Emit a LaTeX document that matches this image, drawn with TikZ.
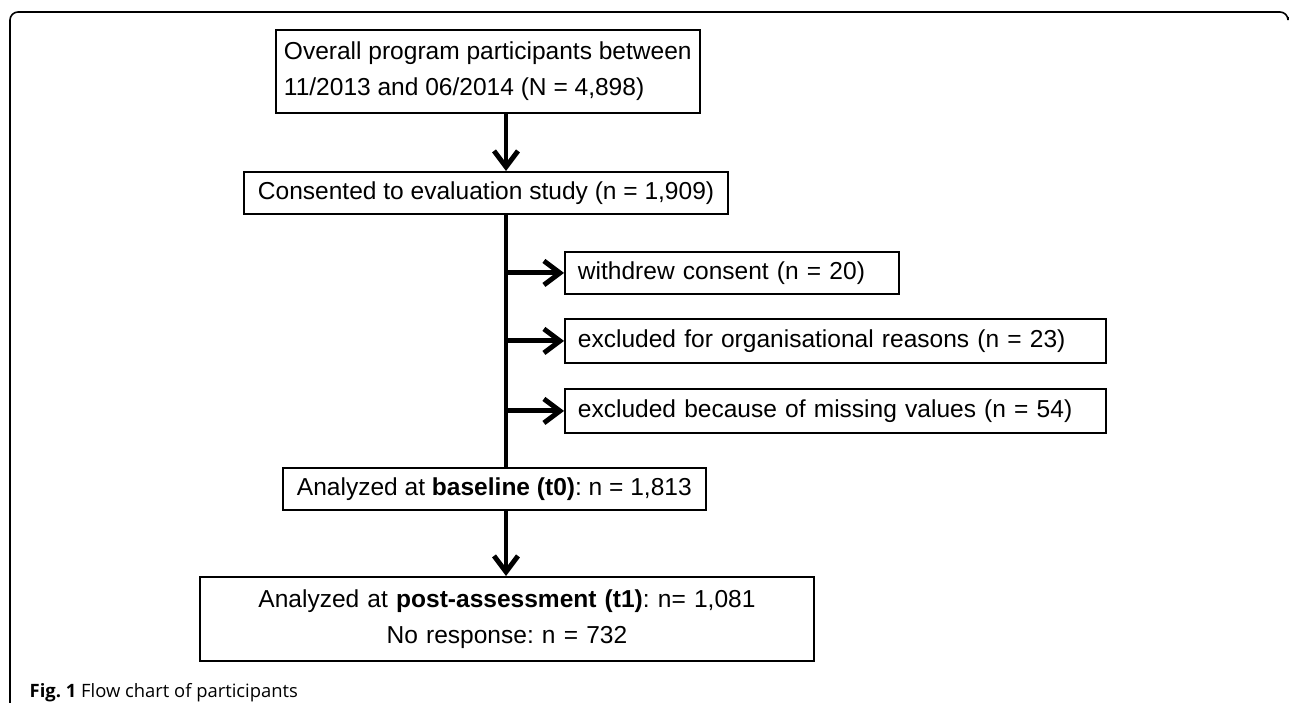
\documentclass[tikz,border=0pt]{standalone}
\usepackage{fontspec}
\setmainfont{Liberation Sans}
\newfontfamily\capfont{Open Sans}
\usetikzlibrary{arrows.meta}
\frenchspacing

\tikzset{
    box/.style={draw, line width=1.4pt, anchor=north west, inner ysep=0pt, inner xsep=6pt, font=\fontsize{18.4}{27}\selectfont},
    flow/.style={line width=3.7pt, -{Straight Barb[length=12pt,width=18pt,line width=3.7pt]}},
}

\begin{document}
\begin{tikzpicture}[x=0.75pt,y=-0.75pt]
    \useasboundingbox (0,0) rectangle (1290,703);
    \coordinate (T) at (506,0);

    % frame
    \draw[line width=1.2pt, rounded corners=6pt] (10,703) -- (10,12) -- (1288,12) -- (1288,17);

    \node[box, align=left, minimum height=62.25pt] (A) at (275,29) {Overall program participants between\\11/2013 and 06/2014 (N = 4,898)};
    \node[box, inner xsep=10.5pt, minimum height=31.5pt] (B) at (243,171) {Consented to evaluation study (n = 1,909)};
    \node[box, inner xsep=9.75pt, text width=231pt, align=left, minimum height=31.5pt] (C1) at (564,251) {withdrew consent (n = 20)};
    \node[box, inner xsep=9.75pt, text width=386pt, align=left, minimum height=33pt] (C2) at (564,318) {excluded for organisational reasons (n = 23)};
    \node[box, inner xsep=9.75pt, text width=386pt, align=left, minimum height=33pt] (C3) at (564,388) {excluded because of missing values (n = 54)};
    \node[box, inner xsep=10.5pt, minimum height=31.5pt] (D) at (282,467) {Analyzed at \textbf{baseline (t0)}: n = 1,813};
    \node[box, text width=448.5pt, align=center, minimum height=63pt] (E) at (199,576) {Analyzed at \textbf{post-assessment (t1)}: n= 1,081\\No response: n = 732};
    \node[anchor=base west, font=\capfont\fontsize{13.8}{16}\selectfont] (F) at (25,697) {\textbf{Fig. 1} Flow chart of participants};

    \draw[flow] (A.south -| T) -- (B.north -| T);
    \draw[line width=3.7pt] (B.south -| T) -- (D.north -| T);
    \foreach \k in {C1,C2,C3}
        \draw[flow] (T |- \k.west) -- (\k.west);
    \draw[flow] (D.south -| T) -- (E.north -| T);
\end{tikzpicture}
\end{document}
